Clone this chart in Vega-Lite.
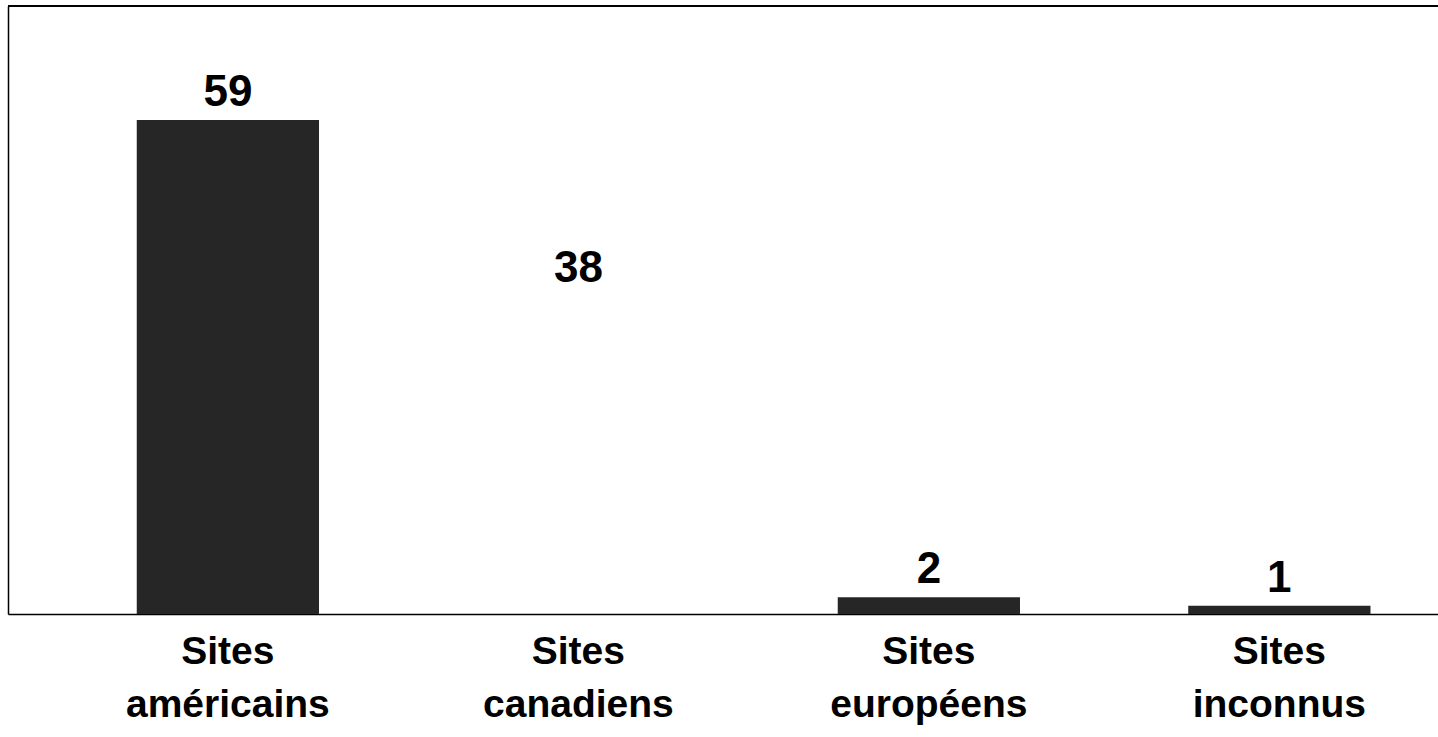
{
  "$schema": "https://vega.github.io/schema/vega-lite/v6.json",
  "width": 1430,
  "height": 608,
  "autosize": {"type": "none"},
  "padding": {"left": 8, "top": 6, "right": 0, "bottom": 123},
  "background": "white",
  "config": {
    "view": {"stroke": null},
    "font": "Liberation Sans"
  },
  "data": {
    "values": [
      {"cat": "Sites américains", "value": 59},
      {"cat": "Sites canadiens", "value": 38},
      {"cat": "Sites européens", "value": 2},
      {"cat": "Sites inconnus", "value": 1}
    ]
  },
  "encoding": {
    "y": {
      "field": "value",
      "type": "quantitative",
      "scale": {"domain": [0, 72.6], "nice": false},
      "axis": {"title": null, "labels": false, "ticks": false, "grid": false, "domain": true, "domainColor": "black", "domainWidth": 1.5}
    }
  },
  "layer": [
    {
      "mark": {"type": "bar"},
      "encoding": {
        "x": {
          "field": "cat",
          "type": "nominal",
          "sort": null,
          "scale": {"paddingInner": 0.48, "paddingOuter": 0.28, "align": 0.656},
          "axis": {
            "title": null,
            "labelExpr": "split(datum.label, ' ')",
            "labelFontSize": 39,
            "labelFontWeight": "bold",
            "labelColor": "black",
            "labelLineHeight": 53,
            "labelAngle": 0,
            "labelLimit": 0,
            "ticks": false,
            "domain": true,
            "domainColor": "black",
            "domainWidth": 1.5,
            "labelPadding": 18
          }
        },
        "color": {
          "condition": {"test": "datum.cat === 'Sites canadiens'", "value": "transparent"},
          "value": "#262626"
        }
      }
    },
    {
      "mark": {"type": "text", "dy": -14, "baseline": "alphabetic", "align": "center", "fontSize": 44, "fontWeight": "bold", "color": "black"},
      "encoding": {
        "x": {"field": "cat", "type": "nominal", "sort": null},
        "text": {"field": "value", "type": "quantitative"}
      }
    },
    {
      "mark": {"type": "rule", "color": "black", "strokeWidth": 1.5},
      "encoding": {"y": {"datum": 72.6}}
    }
  ]
}
